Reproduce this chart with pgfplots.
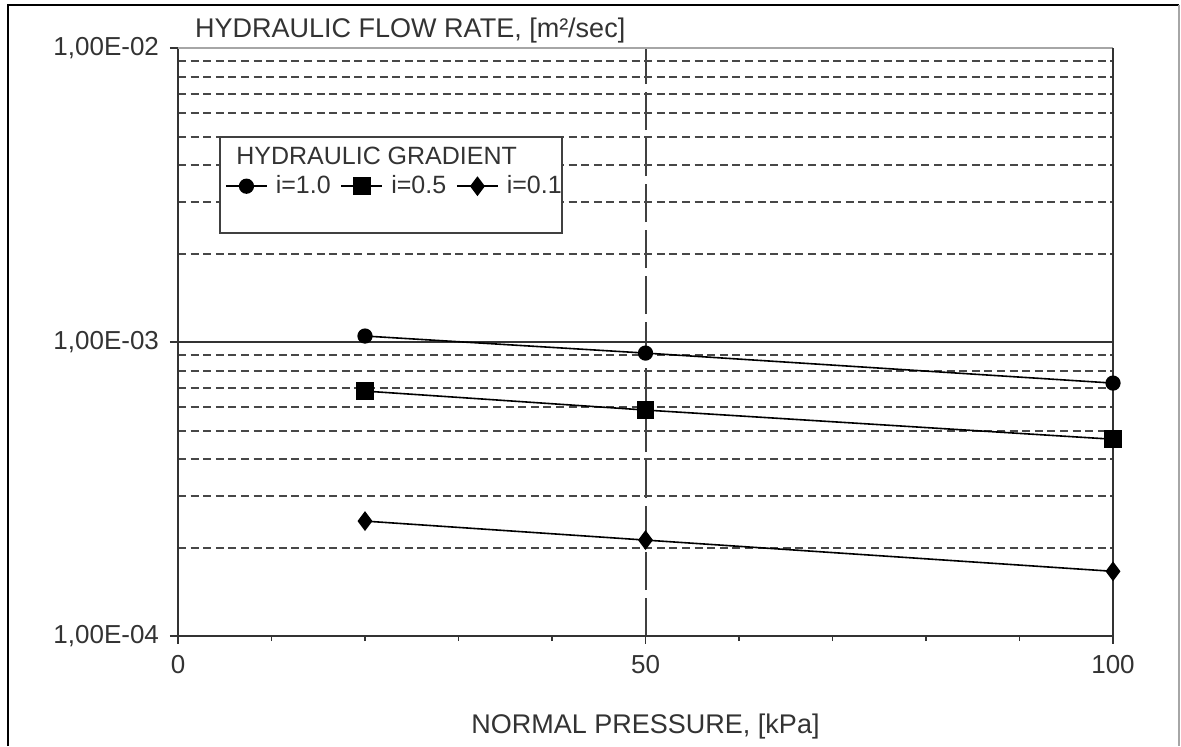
\documentclass[border=0pt]{standalone}
\usepackage{fontspec}
\setmainfont{Liberation Sans}
\usepackage{pgfplots}
\pgfplotsset{compat=1.18}
\newcommand{\fa}{\fontsize{13}{15}\selectfont}
\newcommand{\fb}{\fontsize{13.5}{16}\selectfont}
\newcommand{\fc}{\fontsize{12.5}{15}\selectfont}
\begin{document}
\begin{tikzpicture}
\path[use as bounding box] (-89pt,-55pt) rectangle (501.5pt,318pt);
% outer frame of the picture
\draw[black, line width=1pt] (-85pt,-55pt) -- (-85pt,315.5pt) -- (500.5pt,315.5pt);
\draw[black!35, line width=0.6pt] (500.5pt,315.5pt) -- (500.5pt,-55pt);
\begin{axis}[
  at={(0pt,0pt)}, anchor=south west,
  scale only axis, width=467.5pt, height=294pt,
  clip=false,
  xmin=0, xmax=100,
  ymode=log, ymin=1e-4, ymax=1e-2,
  axis lines=left,
  axis line style={-, black!80, line width=0.9pt},
  tick align=outside,
  major tick length=4pt, minor tick length=2.5pt,
  tick style={black!80, line width=0.9pt},
  xtick={0,50,100}, xticklabels={0,50,100},
  minor x tick num=4,
  xmajorgrids,
  major x grid style={black!75, line width=1pt, dash pattern=on 19pt off 4pt},
  ytick={1e-4,1e-3,1e-2}, yticklabels={{1,00E-04},{1,00E-03},{1,00E-02}},
  ymajorgrids, yminorgrids,
  major y grid style={solid, black!80, line width=0.9pt},
  minor y grid style={black!72, line width=1pt, dash pattern=on 4pt off 2.3pt},
  minor y tick style={draw=none},
  tick label style={font=\fa, text=black!80},
  xticklabel style={yshift=-2pt},
  yticklabel style={xshift=-2pt},
  xlabel={NORMAL PRESSURE, [kPa]},
  xlabel style={at={(axis description cs:0.5,0)}, anchor=center, yshift=-45pt, font=\fb, text=black!80},
  legend columns=3,
  legend style={at={(rel axis cs:0.05,0.765)}, anchor=west, draw=none, fill=none,
    inner sep=0pt, font=\fc, text=black!80,
    nodes={inner sep=0pt},
    /tikz/every odd column/.append style={column sep=4pt},
    /tikz/every even column/.append style={column sep=5pt}},
  legend image code/.code={\draw[mark repeat=2,mark phase=2] plot coordinates {(0pt,0pt)(10.25pt,0pt)(20.5pt,0pt)};},
]
% top edge is a light grey line, right edge a solid dark one
\draw[white, line width=1.4pt] (rel axis cs:0,1) -- (rel axis cs:1,1);
\draw[black!35, line width=0.6pt] (rel axis cs:0,1) -- (rel axis cs:1,1);
\draw[black!80, line width=0.9pt] (rel axis cs:1,0) -- (rel axis cs:1,1);
\draw[black!75, line width=0.9pt, fill=white] (rel axis cs:0.0449,0.6854) rectangle (rel axis cs:0.4107,0.8486);
\node[anchor=west, inner sep=0pt, font=\fc, text=black!80] at (rel axis cs:0.062,0.817) {HYDRAULIC GRADIENT};
\node[anchor=west, inner sep=0pt, font=\fb, text=black!80] at (rel axis cs:0.018,1.029) {HYDRAULIC FLOW RATE, [m²/sec]};

\addplot[black, line width=0.8pt, mark=*, mark size=3.4pt] coordinates {
  (20,1.048e-3) (50,9.17e-4) (100,7.25e-4)
};
\addlegendentry{i=1.0}
\addplot[black, line width=0.8pt, mark=square*, mark size=4pt] coordinates {
  (20,6.81e-4) (50,5.87e-4) (100,4.67e-4)
};
\addlegendentry{i=0.5}
\addplot[black, line width=0.8pt, mark=diamond*, mark size=4.3pt] coordinates {
  (20,2.46e-4) (50,2.12e-4) (100,1.66e-4)
};
\addlegendentry{i=0.1}
\end{axis}
\end{tikzpicture}
\end{document}
